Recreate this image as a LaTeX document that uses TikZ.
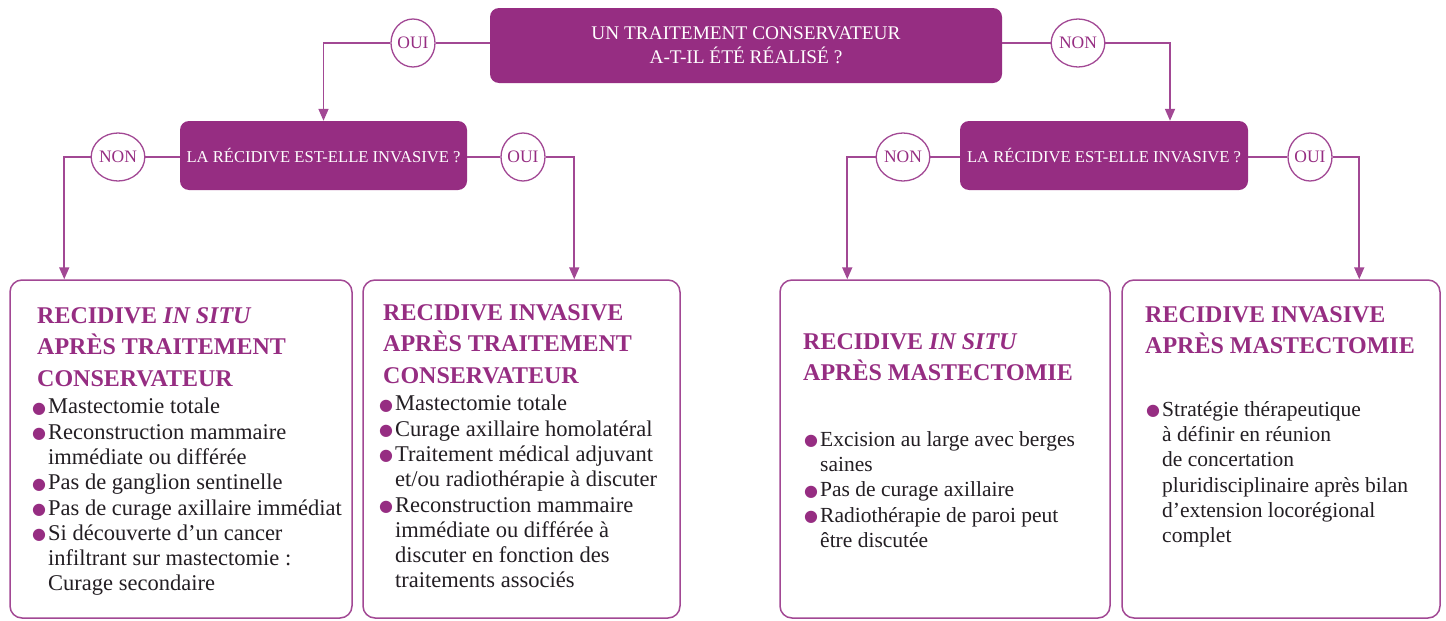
\documentclass[tikz,border=0pt]{standalone}
\usepackage{fontspec}
\setmainfont{Liberation Serif}
\newfontfamily\symf{DejaVu Sans}
\usetikzlibrary{arrows.meta,shapes.geometric,calc}
\definecolor{purp}{RGB}{150,45,130}
\definecolor{lpurp}{RGB}{162,72,148}
\definecolor{txt}{RGB}{35,30,35}
\newcommand{\bul}{\makebox[16pt][l]{\raisebox{0.6pt}{\color{purp}\symf\fontsize{16}{16}\selectfont ●}}}
\newcommand{\ind}{\hspace*{16pt}}
\begin{document}
\begin{tikzpicture}[x=1pt,y=-1pt,
 qbox/.style={fill=purp, rounded corners=9pt, text=white, align=center, inner sep=0pt},
 lab/.style={ellipse, draw=lpurp, line width=1.3pt, fill=white, minimum width=44pt, minimum height=48pt, inner sep=0pt, font=\fontsize{17.5}{17.5}\selectfont, text=purp},
 rbox/.style={draw=lpurp, line width=1.5pt, rounded corners=12pt, fill=white, inner sep=0pt},
 conn/.style={draw=lpurp, line width=1.7pt},
 arr/.style={conn, -{Triangle[length=12pt,width=10pt]}},
 ttl/.style={anchor=north west, align=left, text=purp, font=\bfseries\fontsize{24}{31.5}\selectfont, inner sep=0pt},
 body/.style={anchor=north west, align=left, text=txt, font=\fontsize{22.5}{25.3}\selectfont, inner sep=0pt},
 bodyr/.style={anchor=north west, align=left, text=txt, font=\fontsize{21.5}{25.3}\selectfont, inner sep=0pt},
]
\useasboundingbox (0,0) rectangle (1446,621);
\fill[white] (0,0) rectangle (1446,621);

% question boxes
\node[qbox, minimum width=512pt, minimum height=75pt, font=\fontsize{19.3}{24}\selectfont] (top) at (746,45.5) {UN TRAITEMENT CONSERVATEUR\\A-T-IL ÉTÉ RÉALISÉ ?};
\node[qbox, minimum width=287pt, minimum height=69pt, font=\fontsize{16.6}{16.6}\selectfont] (qL) at (323.5,155.5) {LA RÉCIDIVE EST-ELLE INVASIVE ?};
\node[qbox, minimum width=288pt, minimum height=69pt, font=\fontsize{16.6}{16.6}\selectfont] (qR) at (1104,155.5) {LA RÉCIDIVE EST-ELLE INVASIVE ?};

% answer boxes
\node[rbox, minimum width=342pt, minimum height=338pt] (b1) at (181,449) {};
\node[rbox, minimum width=317pt, minimum height=338pt] (b2) at (521.5,449) {};
\node[rbox, minimum width=330pt, minimum height=338pt] (b3) at (945,449) {};
\node[rbox, minimum width=318pt, minimum height=338pt] (b4) at (1281,449) {};

% labels
\node[lab] (oui1) at (413,43) {OUI};
\node[lab] (non1) at (1078,43) {NON};
\node[lab] (non2) at (118,157) {NON};
\node[lab] (oui2) at (523,157) {OUI};
\node[lab] (non3) at (903,157) {NON};
\node[lab] (oui3) at (1310,157) {OUI};

% connectors
\draw[conn] (top.west |- oui1) -- (oui1.east);
\draw[arr] (oui1.west) -| (qL.north);
\draw[conn] (top.east |- non1) -- (non1.west);
\draw[arr] (non1.east) -| ([xshift=66pt]qR.north);

\draw[conn] (qL.west |- non2) -- (non2.east);
\draw[arr] (non2.west) -| ([xshift=55pt]b1.north west);
\draw[conn] (qL.east |- oui2) -- (oui2.west);
\draw[arr] (oui2.east) -| ([xshift=212pt]b2.north west);

\draw[conn] (qR.west |- non3) -- (non3.east);
\draw[arr] (non3.west) -| ([xshift=68pt]b3.north west);
\draw[conn] (qR.east |- oui3) -- (oui3.west);
\draw[arr] (oui3.east) -| ([xshift=238pt]b4.north west);

% box 1
\node[ttl] (t1) at (37,307) {RECIDIVE \textit{IN SITU}\\APRÈS TRAITEMENT\\CONSERVATEUR};
\node[body] (x1) at (32,398) {\bul Mastectomie totale\\
\bul Reconstruction mammaire\\
\ind immédiate ou différée\\
\bul Pas de ganglion sentinelle\\
\bul Pas de curage axillaire immédiat\\
\bul Si découverte d’un cancer\\
\ind infiltrant sur mastectomie :\\
\ind Curage secondaire};

% box 2
\node[ttl] (t2) at (383,304) {RECIDIVE INVASIVE\\APRÈS TRAITEMENT\\CONSERVATEUR};
\node[body] (x2) at (379,395) {\bul Mastectomie totale\\
\bul Curage axillaire homolatéral\\
\bul Traitement médical adjuvant\\
\ind et/ou radiothérapie à discuter\\
\bul Reconstruction mammaire\\
\ind immédiate ou différée à\\
\ind discuter en fonction des\\
\ind traitements associés};

% box 3
\node[ttl] (t3) at (803,333) {RECIDIVE \textit{IN SITU}\\APRÈS MASTECTOMIE};
\node[bodyr] (x3) at (804,431) {\bul Excision au large avec berges\\
\ind saines\\
\bul Pas de curage axillaire\\
\bul Radiothérapie de paroi peut\\
\ind être discutée};

% box 4
\node[ttl] (t4) at (1145,306) {RECIDIVE INVASIVE\\APRÈS MASTECTOMIE};
\node[bodyr] (x4) at (1146,401) {\bul Stratégie thérapeutique\\
\ind à définir en réunion\\
\ind de concertation\\
\ind pluridisciplinaire après bilan\\
\ind d’extension locorégional\\
\ind complet};
\end{tikzpicture}
\end{document}
